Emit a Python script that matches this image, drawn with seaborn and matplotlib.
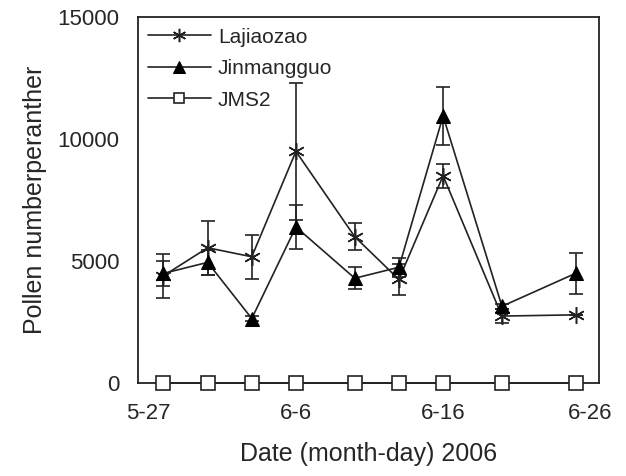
import numpy as np
import pandas as pd
import matplotlib
matplotlib.use("Agg")
import matplotlib.pyplot as plt
import seaborn as sns

# days after 5-27
days = [1, 4, 7, 10, 14, 17, 20, 24, 29]
tick_days = [0, 10, 20, 30]
tick_labels = ["5-27", "6-6", "6-16", "6-26"]

lajiaozao = [4400, 5550, 5180, 9500, 6000, 4250, 8500, 2750, 2800]
lajiaozao_err = [900, 1100, 900, 2800, 550, 650, 500, 300, 0]
jinmangguo = [4500, 4950, 2650, 6400, 4300, 4750, 10950, 3150, 4500]
jinmangguo_err = [500, 500, 100, 900, 450, 400, 1200, 100, 850]
jms2 = [0, 0, 0, 0, 0, 0, 0, 0, 0]

sns.set_style("white")
plt.rcParams["font.family"] = ["Liberation Sans", "DejaVu Sans"]

ink = "#222222"
fig = plt.figure(figsize=(6.26, 4.76), dpi=100)
ax = fig.add_axes([0.22, 0.195, 0.737, 0.769])

df = pd.DataFrame({"day": days, "Lajiaozao": lajiaozao,
                   "Jinmangguo": jinmangguo, "JMS2": jms2})

ax.errorbar(days, lajiaozao, yerr=lajiaozao_err, fmt="none", ecolor=ink,
            elinewidth=1.2, capsize=5, capthick=1.2, zorder=2)
ax.errorbar(days, jinmangguo, yerr=jinmangguo_err, fmt="none", ecolor=ink,
            elinewidth=1.2, capsize=5, capthick=1.2, zorder=2)

sns.lineplot(data=df, x="day", y="Lajiaozao", ax=ax, color=ink, lw=1.2,
             marker=(6, 2, 0), markersize=12, markeredgewidth=1.1,
             markeredgecolor=ink, label="Lajiaozao", zorder=3)
sns.lineplot(data=df, x="day", y="Jinmangguo", ax=ax, color=ink, lw=1.2,
             marker="^", markersize=10.5, markerfacecolor="black",
             markeredgecolor="black", label="Jinmangguo", zorder=4)
sns.lineplot(data=df, x="day", y="JMS2", ax=ax, color=ink, lw=1.2,
             marker="s", markersize=9.5, markerfacecolor="white",
             markeredgecolor=ink, markeredgewidth=1.2, label="JMS2",
             zorder=5, clip_on=False)

ax.set_xlim(-0.75, 30.6)
ax.set_ylim(0, 15000)
ax.set_yticks([0, 5000, 10000, 15000])
ax.set_xticks(tick_days)
ax.set_xticklabels(tick_labels)
ax.tick_params(axis="y", direction="in", length=6, width=1.2, labelsize=16, pad=13)
ax.tick_params(axis="x", length=0, labelsize=16, pad=14)
for s in ax.spines.values():
    s.set_color(ink)
    s.set_linewidth(1.3)

ax.set_xlabel("Date (month-day) 2006", fontsize=18, labelpad=13)
ax.set_ylabel("Pollen numberperanther", fontsize=18, labelpad=8)

ax.legend(loc="upper left", frameon=False, fontsize=15, handlelength=3.0,
          handletextpad=0.35, labelspacing=0.6, borderaxespad=0.1,
          markerscale=0.8)

fig.savefig("out.png", dpi=100)
